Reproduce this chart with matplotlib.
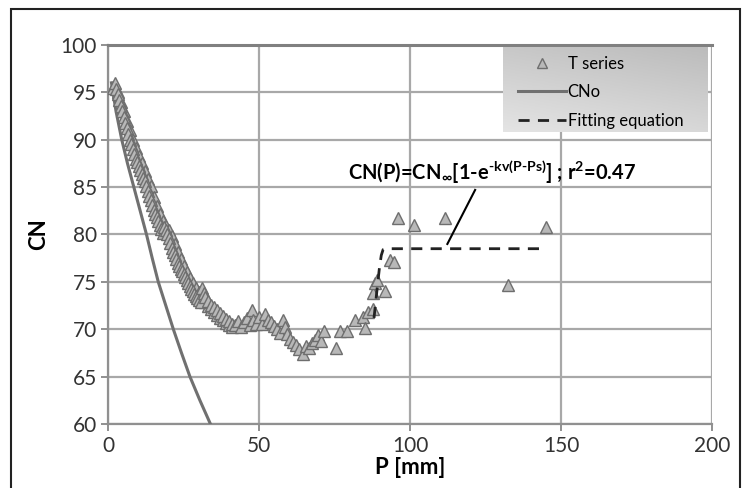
import matplotlib
matplotlib.use("Agg")
import matplotlib.pyplot as plt
import numpy as np
from matplotlib.patches import Rectangle
from matplotlib.colors import LinearSegmentedColormap

# T series (P in mm, CN) - main strand
t_p = [1.5, 2.0, 2.5, 3.0, 3.5, 4.0, 4.5, 5.0, 5.5, 6.0, 6.5, 7.0, 7.5, 8.0, 8.5,
       9.0, 9.5, 10.0, 10.5, 11.0, 11.5, 12.0, 12.5, 13.0, 13.5, 14.0, 14.5, 15.0,
       15.5, 16.0, 16.5, 17.0, 17.5, 18.0, 18.5, 19.0, 19.5, 20.0, 20.5, 21.0, 21.5,
       22.0, 22.5, 23.0, 23.5, 24.0, 24.5, 25.0, 25.5, 26.0, 26.5, 27.0, 27.5, 28.0,
       28.5, 29.0, 29.5, 30.0, 30.5, 31.0, 31.5, 32.0, 33.0, 34.0, 35.0, 36.0, 37.0,
       38.0, 39.0, 40.0, 41.0, 42.0, 43.0, 44.0, 45.0, 46.0, 47.0, 47.5, 48.0, 49.0,
       50.0, 51.0, 52.0, 53.0, 54.0, 55.0, 56.0, 57.0, 58.0, 58.5, 59.0, 60.0, 61.0,
       62.0, 63.0, 64.5, 65.5, 66.5, 67.5, 68.5, 69.5, 70.5, 71.5, 75.5, 76.7, 79.0,
       81.6, 84.4, 85.0, 86.0, 87.8, 87.8, 88.2, 88.9, 91.6, 93.2, 94.5, 95.9, 101.2,
       111.4, 132.4, 145.1]
t_cn = [95.5, 96.0, 95.3, 94.8, 94.2, 93.6, 93.0, 92.4, 91.8, 91.2, 90.6, 90.0, 89.5,
        89.0, 88.5, 88.0, 87.6, 87.2, 86.8, 86.4, 86.0, 85.6, 85.1, 84.6, 84.1, 83.6,
        83.1, 82.6, 82.2, 81.8, 81.4, 81.0, 80.6, 80.2, 80.8, 80.5, 80.1, 79.6, 79.1,
        78.6, 78.2, 77.8, 77.4, 77.0, 76.7, 76.4, 76.1, 75.8, 75.5, 75.2, 74.9, 74.6,
        74.3, 74.0, 73.7, 73.5, 73.3, 73.1, 72.9, 74.4, 73.8, 73.4, 73.0, 72.6, 72.3,
        72.0, 71.7, 71.4, 71.1, 70.9, 70.6, 70.4, 70.9, 70.2, 70.8, 71.2, 70.5, 72.0,
        71.0, 70.6, 71.3, 70.6, 71.6, 71.0, 70.8, 70.3, 70.0, 69.6, 71.0, 70.2, 69.5,
        69.0, 68.7, 68.3, 67.9, 67.4, 68.2, 68.0, 68.6, 68.9, 69.4, 68.8, 69.8, 68.0,
        69.8, 69.8, 71.0, 71.3, 70.1, 71.8, 72.1, 73.8, 74.9, 75.2, 74.0, 77.3, 77.1,
        81.7, 81.0, 81.7, 74.7, 80.8]

# T series - second strand of the dense band
t2_p = [3.0, 4.0, 5.0, 6.0, 7.0, 8.0, 9.0, 10.0, 11.0, 12.0, 13.0, 14.0, 15.0, 16.0,
        17.0, 18.0, 19.0, 20.0, 21.0, 22.0, 23.0, 24.0, 25.0, 26.0, 27.0, 28.0, 29.0,
        30.0, 31.0, 32.0, 33.0, 34.0, 35.0, 36.0, 37.0, 38.0, 39.0, 40.0, 41.0]
t2_cn = [95.0, 94.0, 93.0, 92.0, 91.0, 90.0, 89.1, 88.3, 87.5, 86.7, 85.9, 85.1, 84.0,
         83.0, 82.2, 81.4, 80.9, 80.5, 79.8, 79.0, 78.2, 77.4, 76.7, 76.0, 75.4, 74.9,
         74.4, 73.9, 73.4, 72.9, 72.5, 72.1, 71.8, 71.5, 71.2, 71.0, 70.7, 70.4, 70.2]

# CNo curve
cno_p = [1.0, 2.5, 4.4, 6.3, 8.4, 10.5, 12.6, 14.5, 16.5, 19.0, 21.5, 24.2, 27.0, 30.3, 33.8]
cno_cn = [96.0, 93.0, 90.0, 87.5, 85.0, 82.5, 80.0, 77.5, 75.0, 72.5, 70.0, 67.5, 65.0, 62.5, 60.0]

# Fitting equation
fit_p = [88.0, 88.6, 89.2, 89.8, 90.4, 91.0, 92.0, 145.0]
fit_cn = [71.2, 73.0, 74.8, 76.5, 77.8, 78.4, 78.5, 78.5]

plt.rcParams['font.family'] = ['Lato', 'DejaVu Sans']
plt.rcParams['mathtext.fontset'] = 'custom'
plt.rcParams['mathtext.rm'] = 'Lato:bold'
plt.rcParams['mathtext.it'] = 'Lato:bold'
plt.rcParams['mathtext.bf'] = 'Lato:bold'

fig = plt.figure(figsize=(7.44, 4.88), dpi=100)
ax = fig.add_axes([0.1458, 0.131, 0.8112, 0.777])

mk = dict(linestyle='none', marker='^', markersize=8.5, markerfacecolor='#b8b8b8',
          markeredgecolor='#6e6e6e', markeredgewidth=1.0, zorder=4)
h_cno, = ax.plot(cno_p, cno_cn, color='#707070', lw=2.2, zorder=3)
ax.plot(t2_p, t2_cn, **mk)
h_t, = ax.plot(t_p, t_cn, **mk)
h_fit, = ax.plot(fit_p, fit_cn, color='#222222', lw=2.0, dashes=(4, 3), zorder=5)

ax.set_xlim(0, 200)
ax.set_ylim(60, 100)
ax.set_xticks([0, 50, 100, 150, 200])
ax.set_yticks([60, 65, 70, 75, 80, 85, 90, 95, 100])
ax.grid(True, color='#a8a8a8', lw=1.6)
ax.set_axisbelow(True)
for s in ['left', 'bottom']:
    ax.spines[s].set_color('#909090')
    ax.spines[s].set_linewidth(1.6)
ax.spines['top'].set_color('#808080')
ax.spines['top'].set_linewidth(2.2)
ax.spines['right'].set_visible(False)
ax.tick_params(axis='both', labelsize=15, colors='#909090', labelcolor='#333333',
               length=5, width=1.4)
ax.set_xlabel('P [mm]', fontsize=16, fontweight='bold', labelpad=1)
ax.set_ylabel('CN', fontsize=16, fontweight='bold', labelpad=8)

# annotation
ax.text(127, 86.6, r'CN(P)=CN$_{\infty}$[1-e$^{\text{-}kv(P\text{-}Ps)}$] ; r$^{2}$=0.47',
        fontsize=14.5, fontweight='bold', ha='center', va='center', zorder=6)
ax.plot([121.5, 112.3], [84.7, 79.0], color='black', lw=1.5, zorder=6)

# legend with gradient background
cmap = LinearSegmentedColormap.from_list('lg', ['#e4e4e4', '#bcbcbc'])
gy, gx = np.mgrid[0:1:50j, 0:1:50j]
ax.imshow(0.7 * gy + 0.3 * gx, cmap=cmap, vmin=0, vmax=1, aspect='auto',
          extent=[0.654, 0.993, 0.77, 0.992], transform=ax.transAxes,
          zorder=6, origin='lower')
ax.set_xlim(0, 200)
ax.set_ylim(60, 100)
leg = ax.legend([h_t, h_cno, h_fit], ['T series', 'CNo', 'Fitting equation'],
                loc='upper left', bbox_to_anchor=(0.66, 1.0), frameon=False,
                fontsize=12, handlelength=2.9, handletextpad=0.1, markerscale=0.8,
                labelspacing=0.75, borderaxespad=0.25)
leg.set_zorder(7)

fig.patches.append(Rectangle((11 / 744, -0.1), 729 / 744, 1.1 - 9 / 488,
                             transform=fig.transFigure, fill=False,
                             edgecolor='#222222', lw=1.5))

fig.savefig('out.png', dpi=100)
